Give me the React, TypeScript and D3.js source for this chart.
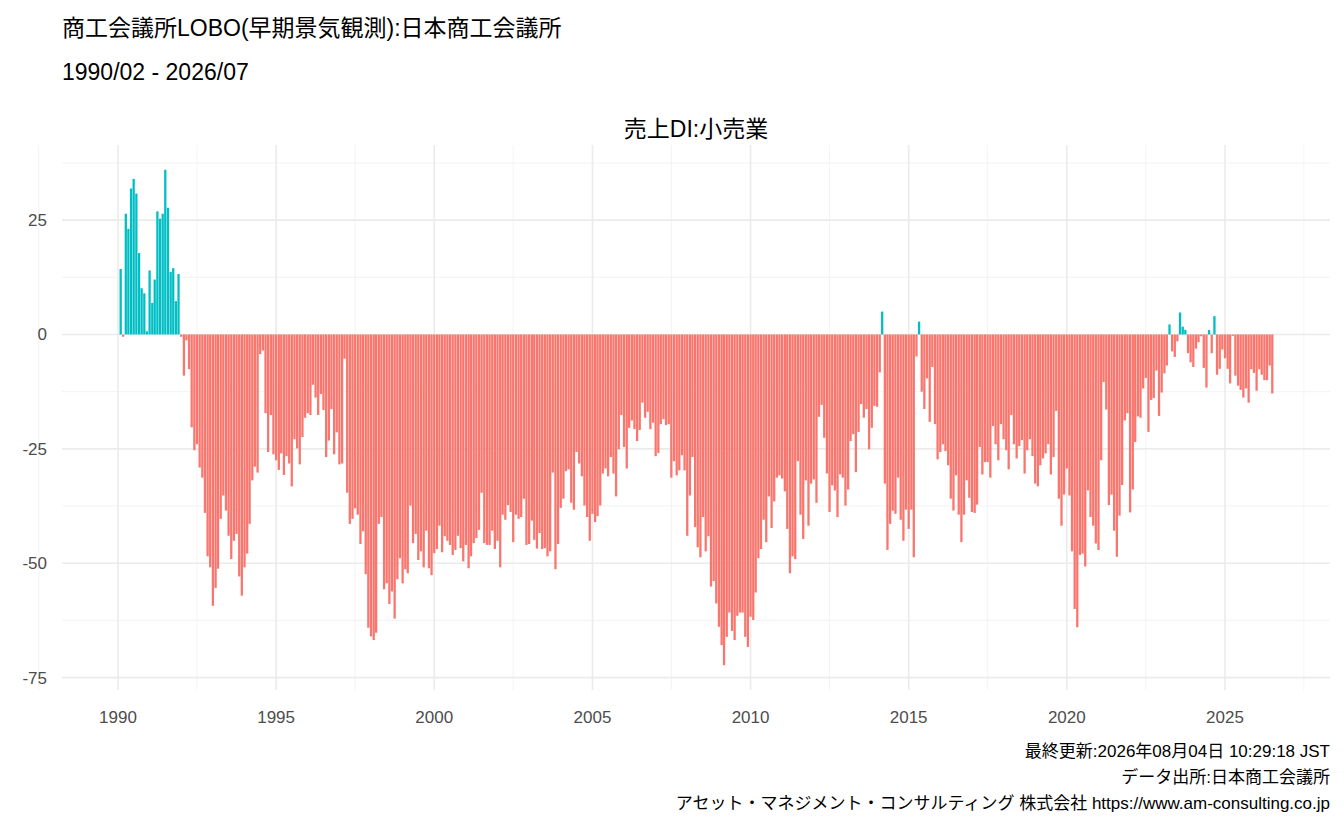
import React, { useEffect, useRef } from 'react';
import * as d3 from 'd3';

// monthly values, 1990/02 - 2026/07
const v1990 = [14.3, -0.5, 26.4, 23.1, 31.9, 34, 30.8, 17.8, 10.1, 9, 0.7];
const v1991 = [14, 6.9, 12, 26.9, 25.3, 26.4, 36, 27.7, 13.7, 14.5, 7.3, 13.2];
const v1992 = [-0.5, -9, -1.3, -7.6, -20.3, -25.3, -24, -29.1, -31.3, -39, -48.5, -50.9];
const v1993 = [-59.3, -55.4, -51.2, -40.3, -35.2, -38.5, -44, -49.1, -45.1, -43.6, -52.9, -57.1];
const v1994 = [-50.9, -47.9, -41.4, -31.9, -28.9, -30.2, -4.3, -3.5, -17.2, -25.7, -17.6, -26.2];
const v1995 = [-27.5, -29.6, -26, -30.7, -26.6, -28.2, -33.2, -22.9, -24.9, -28.4, -22.4, -18.2];
const v1996 = [-17.2, -17.6, -11, -13.8, -17.6, -13, -16.5, -26.8, -23.2, -16.3, -26.2, -21.4];
const v1997 = [-28.4, -28.2, -5.3, -34.6, -41.4, -40.3, -38, -39.4, -45.8, -43, -52.4, -64.1];
const v1998 = [-66, -66.8, -65.2, -41.4, -39.9, -55.7, -54.4, -58.9, -56.2, -62.1, -53.5, -48.9];
const v1999 = [-54.4, -51.3, -52.2, -37.4, -45.6, -43.6, -49.3, -47.4, -50.9, -42.9, -51.1, -52.6];
const v2000 = [-47.8, -46.9, -41.8, -47.6, -44.1, -45.1, -46, -48.2, -47.1, -44, -46.7, -49.6];
const v2001 = [-46, -51.1, -48.5, -45.6, -44.5, -42.7, -34.6, -45.6, -46, -46, -42.9, -46.9];
const v2002 = [-45.1, -50.9, -39.4, -40.5, -37.3, -38.8, -45.4, -39.4, -40.3, -39.9, -35.9, -46];
const v2003 = [-45.8, -40.7, -44.9, -46.8, -43.4, -46.9, -46.7, -48.5, -47.4, -30.2, -51.3, -45.8];
const v2004 = [-37.9, -35.9, -29.9, -29.5, -36.8, -38.3, -25.7, -28.2, -31, -37.4, -39.9, -45.1];
const v2005 = [-39.2, -41, -39.7, -37.4, -30.4, -29.3, -31, -26.8, -30.4, -35.4, -25.1, -17.6];
const v2006 = [-24.6, -29.3, -20.4, -18.8, -20.7, -23.3, -20.9, -14.9, -18.2, -16.9, -20.7, -19.3];
const v2007 = [-26.6, -25.9, -19.6, -18.5, -19.8, -19.6, -31.3, -27.7, -30.8, -29.7, -26.4, -29.7];
const v2008 = [-44, -35.2, -26.8, -42.1, -46.5, -48.7, -39.9, -47.4, -44.1, -55.1, -53.9, -58.8];
const v2009 = [-63.9, -67.9, -72.3, -66.1, -60.8, -64.8, -66.8, -61.5, -60.8, -60.8, -66.1, -68.3];
const v2010 = [-61.7, -62.4, -56.4, -48.9, -46.9, -40.5, -45.4, -35.4, -42.3, -36.5, -31.3, -30.8];
const v2011 = [-31.5, -34.3, -42.5, -52.2, -48.5, -49.1, -27.7, -39.4, -44.7, -31.9, -41.8, -32.6];
const v2012 = [-31.7, -36.8, -18, -15.4, -22.6, -30.4, -38.8, -33, -34.1, -39.9, -30.6, -31.3];
const v2013 = [-37.4, -33.9, -23.3, -21.8, -30.1, -21.3, -15.2, -18.2, -16.3, -25.1, -20.4, -15.6];
const v2014 = [-15.8, -8.3, 5, -32.6, -47.1, -41.4, -38.5, -39.2, -31.3, -40.5, -45.1, -38.3];
const v2015 = [-42.5, -38.3, -48.7, -4.8, 2.8, -12.5, -16.3, -9.6, -19.1, -7.1, -19.6, -27.3];
const v2016 = [-25.7, -24, -25.5, -28.6, -35.9, -38.5, -30.8, -39.4, -45.4, -39.4, -31.9, -35.7];
const v2017 = [-38.8, -39, -37.2, -24.6, -30.6, -27.9, -27.9, -31.3, -20, -24, -27.5, -19.6];
const v2018 = [-22.9, -25.3, -29.5, -17.6, -24, -27.1, -24.4, -23.1, -30.4, -25.3, -22.9, -26.6];
const v2019 = [-32.6, -33.2, -28.6, -27.1, -26, -24, -30.6, -26.8, -16.7, -35.9, -41.8, -35];
const v2020 = [-29.3, -35.2, -47.4, -60, -64, -48.2, -47.9, -50.7, -34.1, -39.9, -41.8, -45.7];
const v2021 = [-47.1, -27.5, -10.4, -16.4, -37.3, -35, -42.9, -48.6, -39.6, -32.9, -18.8, -17.2];
const v2022 = [-38.9, -33.9, -23.5, -17.9, -18.2, -11.8, -9.5, -21.3, -14.3, -13.9, -7.9, -17.8];
const v2023 = [-12.7, -8.5, -6.8, 2.2, -3.7, -4.9, -1.5, 4.8, 1.7, 1.0, -4.1, -6.1];
const v2024 = [-7.1, -3.1, -1.7, -0.4, -7.3, -11.6, 1.0, -4.1, 4, -8.8, -7.5, -3.3];
const v2025 = [-5.2, -7.5, -10.7, -0.3, -9, -11.2, -12.1, -13.8, -11.8, -14.9, -7.6, -8.4];
const v2026 = [-12.3, -7.6, -8.8, -10, -10, -6.8, -12.9];

const allValues = [
  v1990, v1991, v1992, v1993, v1994, v1995, v1996, v1997, v1998, v1999,
  v2000, v2001, v2002, v2003, v2004, v2005, v2006, v2007, v2008, v2009,
  v2010, v2011, v2012, v2013, v2014, v2015, v2016, v2017, v2018, v2019,
  v2020, v2021, v2022, v2023, v2024, v2025, v2026,
].flat();

const yTicks = [25, 0, -25, -50, -75];
const xTickYears = [1990, 1995, 2000, 2005, 2010, 2015, 2020, 2025];

const titleText = '商工会議所LOBO(早期景気観測):日本商工会議所';
const periodText = '1990/02 - 2026/07';
const panelTitle = '売上DI:小売業';
const captions = [
  '最終更新:2026年08月04日 10:29:18 JST',
  'データ出所:日本商工会議所',
  'アセット・マネジメント・コンサルティング 株式会社 https://www.am-consulting.co.jp',
];

interface Row { date: Date; value: number }
const data: Row[] = allValues.map((value, i) => ({ date: new Date(1990, 1 + i, 1), value }));

const W = 1344;
const H = 830;
const FONT = '"Liberation Sans", Arial, "Noto Sans CJK JP", sans-serif';

export default function App() {
  const ref = useRef<SVGSVGElement>(null);

  useEffect(() => {
    if (!ref.current) return;
    const svg = d3.select(ref.current);
    svg.selectAll('*').remove();

    const panel = { left: 62, right: 1330, top: 145, bottom: 690 };

    const x = d3.scaleTime()
      .domain([new Date(1990, 0, 1), new Date(2025, 0, 1)])
      .range([118, 1225]);

    const yMin = d3.min(data, d => d.value)!;
    const yMax = d3.max(data, d => d.value)!;
    const pad = (yMax - yMin) * 0.05;
    const y = d3.scaleLinear()
      .domain([yMin - pad, yMax + pad])
      .range([panel.bottom, panel.top]);

    const grid = svg.append('g');
    // minor grid
    const minorY = yTicks.slice(0, -1).map((t, i) => (t + yTicks[i + 1]) / 2).concat([37.5]);
    grid.selectAll('.my').data(minorY).join('line')
      .attr('x1', panel.left).attr('x2', panel.right)
      .attr('y1', d => y(d)).attr('y2', d => y(d))
      .attr('stroke', '#f0f0f0').attr('stroke-width', 0.8);
    const minorX = xTickYears.map(yr => new Date(yr - 3, 6, 1)).concat([new Date(2027, 6, 1)]);
    grid.selectAll('.mx').data(minorX).join('line')
      .attr('x1', d => x(d)).attr('x2', d => x(d))
      .attr('y1', panel.top).attr('y2', panel.bottom)
      .attr('stroke', '#f0f0f0').attr('stroke-width', 0.8);
    // major grid
    grid.selectAll('.My').data(yTicks).join('line')
      .attr('x1', panel.left).attr('x2', panel.right)
      .attr('y1', d => y(d)).attr('y2', d => y(d))
      .attr('stroke', '#ebebeb').attr('stroke-width', 1.6);
    grid.selectAll('.Mx').data(xTickYears).join('line')
      .attr('x1', d => x(new Date(d, 0, 1))).attr('x2', d => x(new Date(d, 0, 1)))
      .attr('y1', panel.top).attr('y2', panel.bottom)
      .attr('stroke', '#ebebeb').attr('stroke-width', 1.6);

    // bars
    const bw = (x(new Date(2000, 1, 1)) - x(new Date(2000, 0, 1))) * 0.85;
    svg.append('g').selectAll('rect').data(data).join('rect')
      .attr('x', d => x(d.date) - bw / 2)
      .attr('width', bw)
      .attr('y', d => y(Math.max(0, d.value)))
      .attr('height', d => Math.abs(y(d.value) - y(0)))
      .attr('fill', d => (d.value >= 0 ? '#00BFC4' : '#F8766D'));

    // y labels
    svg.append('g').selectAll('text').data(yTicks).join('text')
      .attr('x', 47).attr('y', d => y(d)).attr('dy', '0.35em')
      .attr('text-anchor', 'end').attr('font-size', 17).attr('fill', '#4d4d4d')
      .attr('font-family', FONT).text(d => d);
    // x labels
    svg.append('g').selectAll('text').data(xTickYears).join('text')
      .attr('x', d => x(new Date(d, 0, 1))).attr('y', 723)
      .attr('text-anchor', 'middle').attr('font-size', 17).attr('fill', '#4d4d4d')
      .attr('font-family', FONT).text(d => d);

    // titles
    svg.append('text').attr('x', 62).attr('y', 36).attr('font-size', 23)
      .attr('font-family', FONT).text(titleText);
    svg.append('text').attr('x', 62).attr('y', 80).attr('font-size', 23)
      .attr('font-family', FONT).text(periodText);
    svg.append('text').attr('x', (panel.left + panel.right) / 2).attr('y', 137)
      .attr('text-anchor', 'middle').attr('font-size', 23)
      .attr('font-family', FONT).text(panelTitle);

    svg.append('g').selectAll('text').data(captions).join('text')
      .attr('x', 1330).attr('y', (d, i) => 757 + i * 26)
      .attr('text-anchor', 'end').attr('font-size', 17)
      .attr('font-family', FONT).text(d => d);
  }, []);

  return (
    <svg ref={ref} width={W} height={H}
      style={{ position: 'absolute', left: 0, top: 0, background: '#fff' }} />
  );
}
